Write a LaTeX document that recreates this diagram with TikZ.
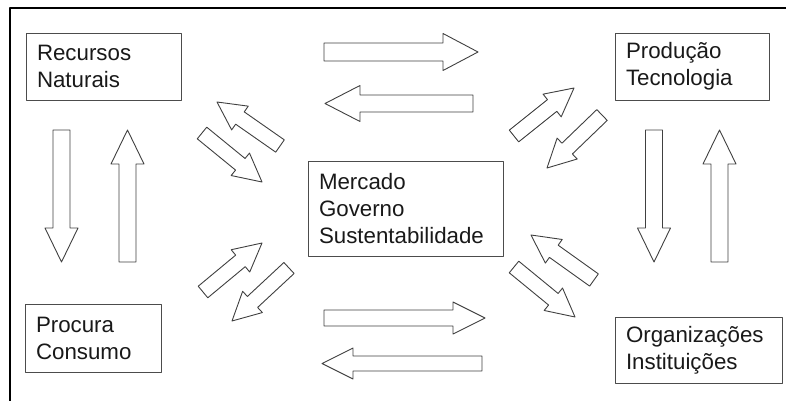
\documentclass[tikz,border=0pt]{standalone}
\usepackage{fontspec}
\setmainfont{Liberation Sans}
\usepackage{tikz}
\usetikzlibrary{calc}

% seta larga (cauda, ponta, meia largura, meia cabeca, comprimento da cabeca)
\newcommand{\setalarga}[5]{%
\coordinate (hb) at ($(#2)!#5!(#1)$);
\draw[seta] ($(#1)!#3!90:(#2)$) -- ($(hb)!#3!90:(#2)$) -- ($(hb)!#4!90:(#2)$)
-- (#2) -- ($(hb)!#4!-90:(#2)$) -- ($(hb)!#3!-90:(#2)$) -- ($(#1)!#3!-90:(#2)$) -- cycle;}

\begin{document}
\begin{tikzpicture}[line cap=round,line join=round,x=1pt,y=-1pt,
caixa/.style={draw=black!70,line width=0.9pt,inner xsep=11pt,align=left,
font=\fontsize{22.3}{27}\selectfont,text=black!90},
seta/.style={draw=black!75,line width=0.9pt,fill=white}]
\useasboundingbox (0,0) rectangle (786,401);
% moldura
\draw[line width=2.6pt,line cap=butt] (10,401) -- (10,8) -- (786,8);
% caixas
\node[caixa,minimum width=155pt,minimum height=67pt,text width=133pt] (recursos) at (103.5,66.5) {Recursos\\Naturais};
\node[caixa,minimum width=154pt,minimum height=67pt,text width=132pt] (producao) at (692,66.5) {Produção\\Tecnologia};
\node[caixa,minimum width=136pt,minimum height=68pt,text width=114pt] (procura) at (93,338) {Procura\\Consumo};
\node[caixa,minimum width=167pt,minimum height=66pt,text width=145pt] (organiza) at (698.5,350) {Organizações\\Instituições};
\node[caixa,minimum width=195pt,minimum height=95pt,text width=173pt] (mercado) at (405.5,208.5) {Mercado\\Governo\\Sustentabilidade};
% setas horizontais
\setalarga{324,52}{478,52}{9pt}{18.5pt}{35pt}
\setalarga{473,103.5}{325,103.5}{8.5pt}{18pt}{35pt}
\setalarga{324,318}{485,318}{8pt}{16pt}{32pt}
\setalarga{482,363.5}{322,363.5}{7.5pt}{15.5pt}{31pt}
% setas verticais
\foreach \xa/\ya/\xb/\yb in {61.5/130/61.5/262, 127.5/262/127.5/130, 654/130/654/262, 719.5/262/719.5/130}
\setalarga{\xa,\ya}{\xb,\yb}{8.5pt}{16.5pt}{34pt};
% setas diagonais
\foreach \xa/\ya/\xb/\yb in {280/146/217/102, 202/133/262/182, 514/136/574/88, 602/115/547/168,
203/292/262/243, 289/268/232/321, 594/280/531/235, 514/267/575/317}
\setalarga{\xa,\ya}{\xb,\yb}{7.5pt}{14.5pt}{28pt};
\end{tikzpicture}
\end{document}
